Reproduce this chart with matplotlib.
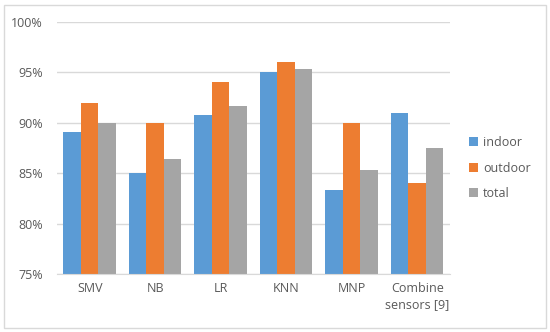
import numpy as np
import matplotlib.pyplot as plt
from matplotlib.patches import Rectangle

categories = ['SMV', 'NB', 'LR', 'KNN', 'MNP', 'Combine\nsensors [9]']
indoor = [89.1, 85.0, 90.8, 95.0, 83.3, 91.0]
outdoor = [92.0, 90.0, 94.0, 96.0, 90.0, 84.0]
total = [90.0, 86.4, 91.7, 95.3, 85.3, 87.5]

series = [('indoor', indoor, '#5B9BD5'),
          ('outdoor', outdoor, '#ED7D31'),
          ('total', total, '#A5A5A5')]

plt.rcParams['font.family'] = ['Open Sans', 'DejaVu Sans']

fig = plt.figure(figsize=(5.5, 3.32), dpi=100)
ax = fig.add_axes([0.1036, 0.1747, 0.7145, 0.759])

x = np.arange(len(categories))
w = 0.267
for i, (name, vals, col) in enumerate(series):
    ax.bar(x + (i - 1) * w, np.array(vals) - 75, bottom=75, width=w,
           color=col, label=name, zorder=3)

ax.set_ylim(75, 100)
ax.set_xlim(-0.5, len(categories) - 0.5)
ax.set_yticks([75, 80, 85, 90, 95, 100])
ax.set_yticklabels(['75%', '80%', '85%', '90%', '95%', '100%'])
ax.set_xticks(x)
ax.set_xticklabels(categories, linespacing=1.3)
ax.tick_params(axis='both', length=0, labelsize=9, colors='#595959', pad=6)
ax.tick_params(axis='y', pad=10)
ax.yaxis.grid(True, color='#D9D9D9', linewidth=1, zorder=0)
for s in ['top', 'right', 'left']:
    ax.spines[s].set_visible(False)
ax.spines['bottom'].set_color('#D9D9D9')
ax.spines['bottom'].set_zorder(4)

leg = ax.legend(loc='center left', bbox_to_anchor=(1.02, 0.42), frameon=False,
                fontsize=9, handlelength=0.7, handleheight=0.7,
                handletextpad=0.4, labelspacing=1.0, labelcolor='#595959')

fig.patches.append(Rectangle((0.008, 0.012), 0.984, 0.972, transform=fig.transFigure,
                             fill=False, edgecolor='#D9D9D9', linewidth=1))

fig.savefig('out.png', dpi=100)
